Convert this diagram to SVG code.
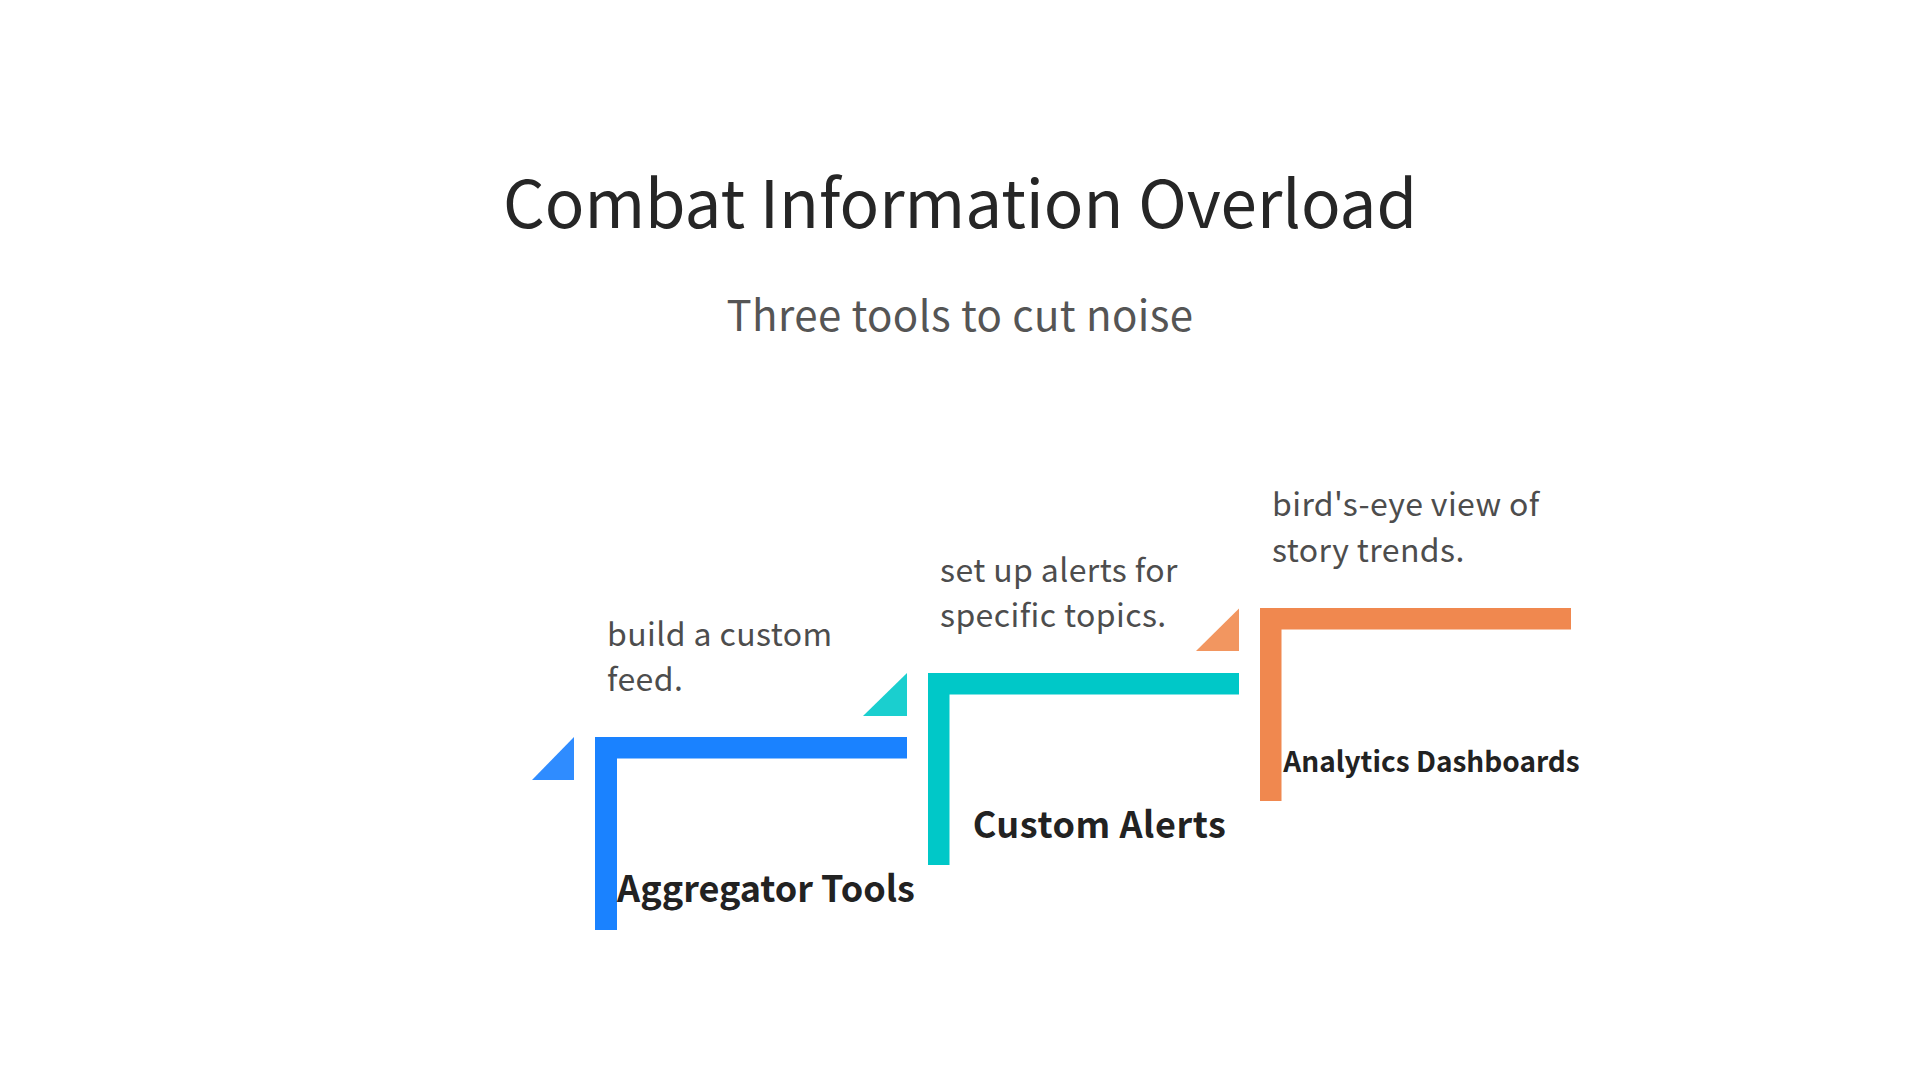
<svg xmlns="http://www.w3.org/2000/svg" width="1920" height="1080" viewBox="0 0 1920 1080">
<style>
.title{font-family:"Noto Sans CJK SC","Noto Sans",sans-serif;font-size:65.5px;fill:#262626;text-anchor:middle}
.sub{font-family:"Noto Sans CJK SC","Noto Sans",sans-serif;font-size:42px;letter-spacing:0.4px;fill:#555555;text-anchor:middle}
.desc{font-family:"Noto Sans CJK SC","Noto Sans",sans-serif;font-size:32px;letter-spacing:0.4px;fill:#4d4d4d}
.lbl{font-family:"Noto Sans CJK SC","Noto Sans",sans-serif;font-weight:700;fill:#222222;text-anchor:middle}
</style>
<rect width="1920" height="1080" fill="#ffffff"/>
<text class="title" x="960" y="228">Combat Information Overload</text>
<text class="sub" x="960" y="331">Three tools to cut noise</text>
<g id="connectors"></g>
<g id="node-aggregator">
<polygon points="532,780 574,737 574,780" fill="#2f8cff"/>
<path d="M595,737 H907 V758.5 H617 V930 H595 Z" fill="#1a82ff"/>
<text class="desc" x="607" y="645.5">build a custom</text>
<text class="desc" x="607" y="690.5">feed.</text>
<text class="lbl" x="766" y="901.5" font-size="36">Aggregator Tools</text>
</g>
<g id="node-alerts">
<polygon points="863,716 907,673 907,716" fill="#1acfcf"/>
<path d="M928,673 H1239 V694.5 H949.5 V865 H928 Z" fill="#00c8c8"/>
<text class="desc" x="940" y="581.5">set up alerts for</text>
<text class="desc" x="940" y="626.5">specific topics.</text>
<text class="lbl" x="1099.5" y="837.5" font-size="36" letter-spacing="0.55">Custom Alerts</text>
</g>
<g id="node-analytics">
<polygon points="1196,651 1239,608.5 1239,651" fill="#f29660"/>
<path d="M1260,608 H1571 V629.5 H1281.5 V801 H1260 Z" fill="#f0884f"/>
<text class="desc" x="1272" y="516">bird's-eye view of</text>
<text class="desc" x="1272" y="561.5">story trends.</text>
<text class="lbl" x="1431.5" y="771.5" font-size="28">Analytics Dashboards</text>
</g>
</svg>
